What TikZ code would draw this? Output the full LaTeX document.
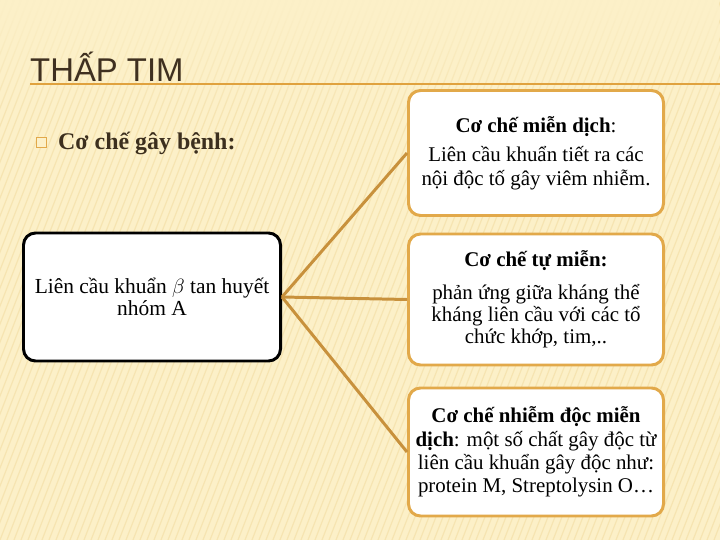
\documentclass[tikz,border=0pt]{standalone}
\usepackage{fontspec}
\setmainfont{Liberation Serif}
\newfontfamily\titlefont{Liberation Sans}
\usetikzlibrary{positioning,fadings}

\definecolor{cream}{HTML}{FCF0C8}
\definecolor{stripec}{HTML}{F2DCA2}
\definecolor{titlebrown}{HTML}{3F3020}
\definecolor{textbrown}{HTML}{3C2F1E}
\definecolor{rule}{HTML}{E0A23E}
\definecolor{framec}{HTML}{E2A94A}
\definecolor{linkc}{HTML}{C8913C}

\tikzset{
  srcbox/.style={draw=black, line width=3pt, fill=white, rounded corners=12bp,
    minimum width=257bp, minimum height=128bp, align=center,
    font=\fontsize{21.5}{22.5}\selectfont},
  mechbox/.style={draw=framec, line width=3pt, fill=white, rounded corners=12bp,
    minimum width=255bp, align=center, inner sep=0pt,
    font=\fontsize{21}{23.3}\selectfont},
  link/.style={draw=linkc, line width=3pt}
}

\begin{document}
\begin{tikzpicture}[x=1bp, y=-1bp]
        % background
        \fill[cream] (0,0) rectangle (720,540);
        \begin{scope}[scope fading=east]
            \clip (0,0) rectangle (720,540);
            \foreach \i in {0,7,...,1000}
                \draw[stripec, line width=1.2pt, opacity=0.6] (\i-210,540) -- (\i,0);
        \end{scope}
        \fill[cream, path fading=south] (0,0) rectangle (720,120);
        \useasboundingbox (0,0) rectangle (720,540);

        % title
        \node[anchor=base west, inner sep=0pt, text=titlebrown,
              font=\titlefont\fontsize{33}{33}\selectfont] (title) at (30,82) {THẤP TIM};
        \coordinate (ruleend) at (720,84);
        \draw[rule, line width=2pt] (30,84) -- (ruleend);

        % bullet
        \draw[framec, fill=cream, line width=0.6pt] (36,137) rectangle (46,147);
        \node[anchor=base west, inner sep=0pt, text=textbrown,
              font=\bfseries\fontsize{24}{26}\selectfont] (cause) at (58,150) {Cơ chế gây bệnh:};

        % boxes
        \node[srcbox] (strep) at (152,297) {Liên cầu khuẩn $\beta$ tan huyết\\nhóm A};
        \node[mechbox, minimum height=125bp] (immune) at (536,153)
            {\textbf{Cơ chế miễn dịch}:\\[6.5pt]Liên cầu khuẩn tiết ra các\\nội độc tố gây viêm nhiễm.};
        \node[mechbox, minimum height=131bp] (auto) at (536,299.5)
            {\textbf{Cơ chế tự miễn:}\\[9.5pt]phản ứng giữa kháng thể\\[-1pt]kháng liên cầu với các tổ\\[-1pt]chức khớp, tim,..};
        \node[mechbox, minimum height=128bp] (toxic) at (536,452)
            {\textbf{Cơ chế nhiễm độc miễn}\\\textbf{dịch}: một số chất gây độc từ\\liên cầu khuẩn gây độc như:\\protein M, Streptolysin O…};

        % connectors
        \draw[link] (strep.east) -- (immune.west);
        \draw[link] (strep.east) -- (auto.west);
        \draw[link] (strep.east) -- (toxic.west);
    \end{tikzpicture}
\end{document}
